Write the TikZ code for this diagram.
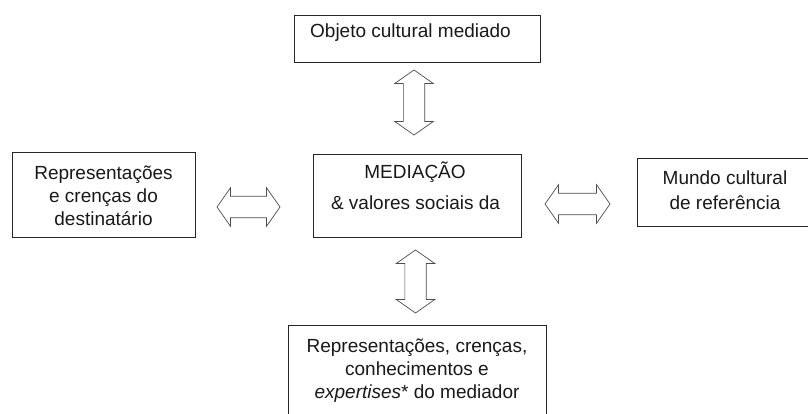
\documentclass[tikz,border=0pt]{standalone}
\usepackage{fontspec}
\setmainfont{Liberation Sans}
\usetikzlibrary{shapes.arrows}
\begin{document}
\begin{tikzpicture}[x=1pt,y=-1pt,
  box/.style={draw=black!85, line width=0.9pt, fill=white, rectangle, inner sep=0pt},
  txt/.style={font=\fontsize{19}{23}\selectfont, align=center, inner sep=0pt, text=black!90},
  dbl/.style={double arrow, draw=black!70, line width=0.7pt, fill=white,
    double arrow head extend=8.7pt, double arrow tip angle=110},
  dblh/.style={dbl, inner xsep=0pt, inner ysep=10.3pt},
  dblv/.style={dbl, inner xsep=10.3pt, inner ysep=0pt, shape border rotate=90}]
\useasboundingbox (0,0) rectangle (808,414);
\clip (0,0) rectangle (808,414);
% boxes
\node[box, minimum width=246pt, minimum height=47pt] (top) at (417,38.5) {};
\node[box, minimum width=183pt, minimum height=85pt] (left) at (103.5,194.5) {};
\node[box, minimum width=208pt, minimum height=83pt] (mid) at (417,195.5) {};
\node[box, minimum width=200pt, minimum height=68pt] (right) at (737,192) {};
\node[box, minimum width=258pt, minimum height=120pt] (bot) at (417,385) {};
% texts
\node[txt] (ttop) at (410.5,33) {Objeto cultural mediado};
\node[txt] (tleft) at (103.5,195.5) {Representações\\e crenças do\\destinatário};
\node[txt] (tmid1) at (415,172) {MEDIAÇÃO};
\node[txt] (tmid2) at (415.5,203) {\& valores sociais da};
\node[txt, font=\fontsize{19}{25}\selectfont] (tright) at (725,190) {Mundo cultural\\de referência};
\node[txt] (tbot) at (417,370.5) {Representações, crenças,\\conhecimentos e\\\textit{expertises}* do mediador};
% arrows
\node[dblv, minimum height=65pt] (atop) at (414,102.5) {};
\node[dblh, minimum height=63pt] (aleft) at (248.5,207) {};
\node[dblh, minimum height=65pt] (aright) at (577.5,204) {};
\node[dblv, minimum height=63pt] (abot) at (415.5,281.5) {};
\end{tikzpicture}
\end{document}
